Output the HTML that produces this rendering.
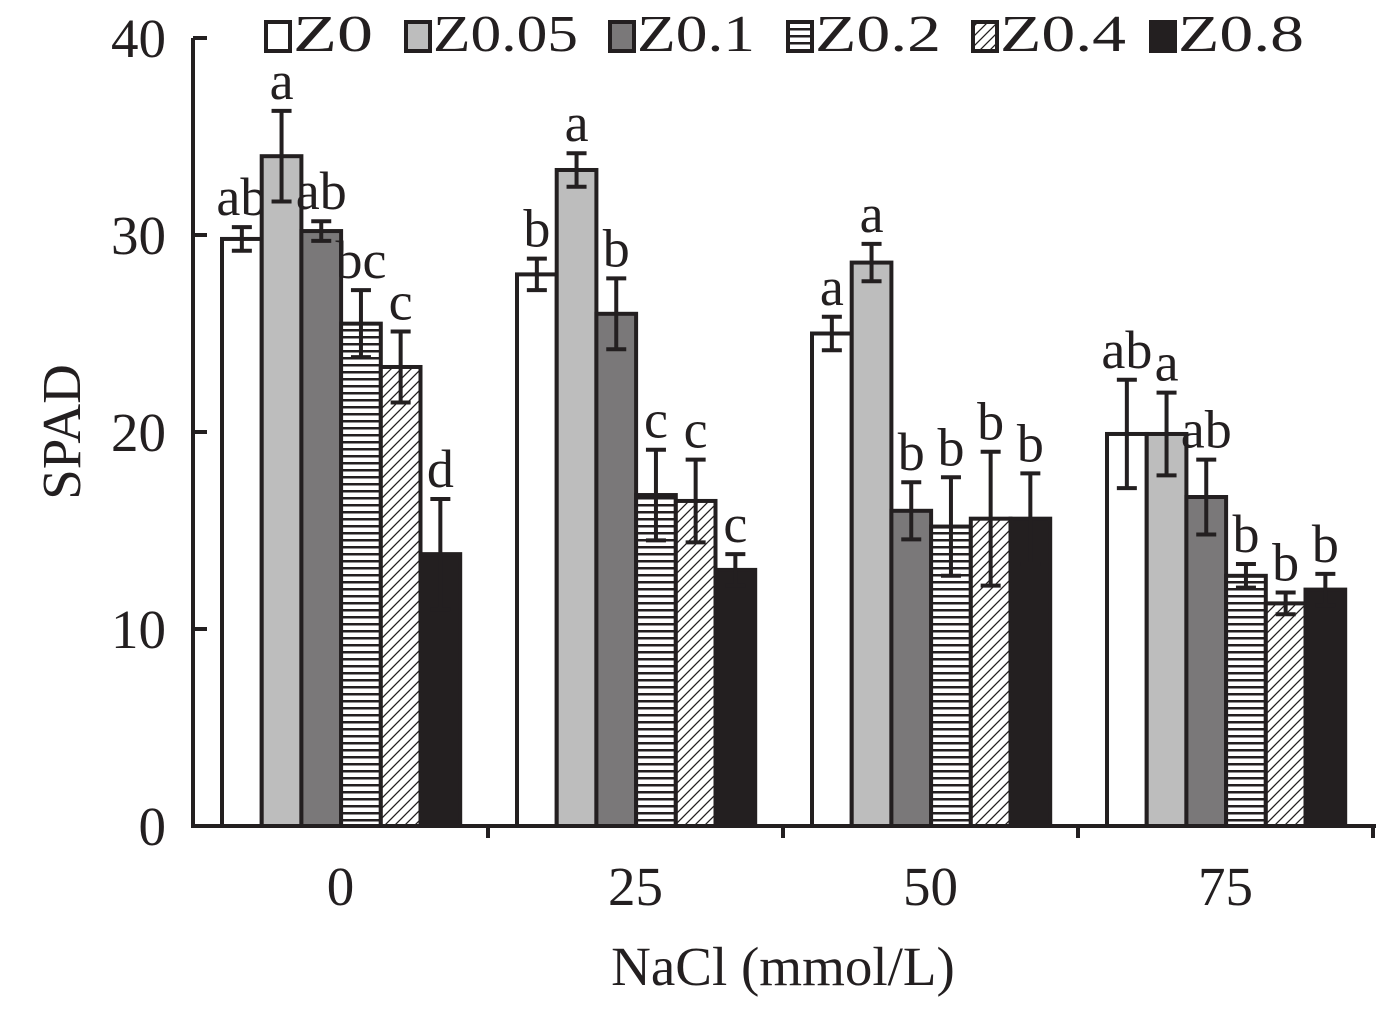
<!DOCTYPE html>
<html><head><meta charset="utf-8"><style>
body{margin:0;background:#fff}
svg text{font-family:"Liberation Serif",serif;fill:#231f20}
</style></head><body>
<svg id="chart" width="1378" height="1004" viewBox="0 0 1378 1004" xmlns="http://www.w3.org/2000/svg">
<defs>
<pattern id="hlines" patternUnits="userSpaceOnUse" width="8" height="7"><rect width="8" height="7" fill="#fff"/><rect y="0" width="8" height="2.5" fill="#231f20"/></pattern>
<pattern id="diag" patternUnits="userSpaceOnUse" width="10" height="10"><rect width="10" height="10" fill="#fff"/><path d="M-2,12 L12,-2 M-2,2 L2,-2 M8,12 L12,8" stroke="#231f20" stroke-width="1.3"/></pattern>
</defs>
<g id="plot"></g>
</svg>
<script>
const categories=["0","25","50","75"];
const series=["Z0","Z0.05","Z0.1","Z0.2","Z0.4","Z0.8"];
const valuesZ0=[29.8,28.0,25.0,19.9];
const valuesZ005=[34.0,33.3,28.6,19.9];
const valuesZ01=[30.2,26.0,16.0,16.7];
const valuesZ02=[25.5,16.8,15.2,12.7];
const valuesZ04=[23.3,16.5,15.6,11.3];
const valuesZ08=[13.8,13.0,15.6,12.0];
const errZ0=[0.6,0.8,0.85,2.75];
const errZ005=[2.3,0.85,0.95,2.1];
const errZ01=[0.5,1.8,1.45,1.9];
const errZ02=[1.7,2.3,2.5,0.6];
const errZ04=[1.8,2.1,3.4,0.55];
const errZ08=[2.8,0.8,2.3,0.8];
const lettersZ0=["ab","b","a","ab"];
const lettersZ005=["a","a","a","a"];
const lettersZ01=["ab","b","b","ab"];
const lettersZ02=["bc","c","b","b"];
const lettersZ04=["c","c","b","b"];
const lettersZ08=["d","c","b","b"];
const yTicks=[0,10,20,30,40];

const vals=[valuesZ0,valuesZ005,valuesZ01,valuesZ02,valuesZ04,valuesZ08];
const errs=[errZ0,errZ005,errZ01,errZ02,errZ04,errZ08];
const lets=[lettersZ0,lettersZ005,lettersZ01,lettersZ02,lettersZ04,lettersZ08];
const fills=["#fff","#bdbdbd","#7a7879","url(#hlines)","url(#diag)","#231f20"];
const NS="http://www.w3.org/2000/svg";
const g=document.getElementById('plot');
const x0=193,groupW=295,barW=39.7,pad=29;
const y=v=>826-v*19.7;
function el(t,a,txt){const e=document.createElementNS(NS,t);for(const k in a)e.setAttribute(k,a[k]);if(txt!==undefined)e.textContent=txt;g.appendChild(e);return e;}
categories.forEach((c,ci)=>{
 series.forEach((s,si)=>{
  const v=vals[si][ci],bx=x0+ci*groupW+pad+si*barW;
  const r=el('rect',{x:bx,y:y(v),width:barW,height:826-y(v),fill:fills[si],stroke:"#231f20","stroke-width":4});
  
  
  const cx=bx+barW/2,e=errs[si][ci],t=y(v+e),b=y(v-e);
  const eb=el('path',{d:`M${cx},${t}V${b}M${cx-10},${t}H${cx+10}M${cx-10},${b}H${cx+10}`,stroke:"#231f20","stroke-width":4,fill:"none"});
  
  
  const lt=el('text',{x:cx,y:t-12,"text-anchor":"middle","font-size":54},lets[si][ci]);
  
  
 });
 const xl=el('text',{x:x0+ci*groupW+groupW/2,y:905,"text-anchor":"middle","font-size":55},c);
 
 
 const tk=el('line',{x1:x0+(ci+1)*groupW,x2:x0+(ci+1)*groupW,y1:826,y2:838,stroke:"#231f20","stroke-width":4});
 
 
});
const ya=el('path',{d:`M${x0},38V826H1376`,stroke:"#231f20","stroke-width":4,fill:"none"});


yTicks.forEach(t=>{
 const tl=el('line',{x1:x0,x2:x0+14,y1:y(t),y2:y(t),stroke:"#231f20","stroke-width":4});
 
 
 const tx=el('text',{x:166,y:y(t)+19,"text-anchor":"end","font-size":55},String(t));
 
 
});
const yt=el('text',{x:0,y:0,"text-anchor":"middle","font-size":55,transform:"translate(80,432) rotate(-90)"},"SPAD");


const xt=el('text',{x:783,y:985,"text-anchor":"middle","font-size":55},"NaCl (mmol/L)");


const legX=[266,406,610,788,973,1151];
const legW=[80,145,118,126,126,126];
series.forEach((s,si)=>{
 const b=el('rect',{x:legX[si],y:22,width:24,height:29,fill:fills[si],stroke:"#231f20","stroke-width":4});
 
 
 const t=el('text',{x:legX[si]+27,y:51,"font-size":52,textLength:legW[si],lengthAdjust:"spacingAndGlyphs"},s);
 
 
});
</script>
</body></html>
